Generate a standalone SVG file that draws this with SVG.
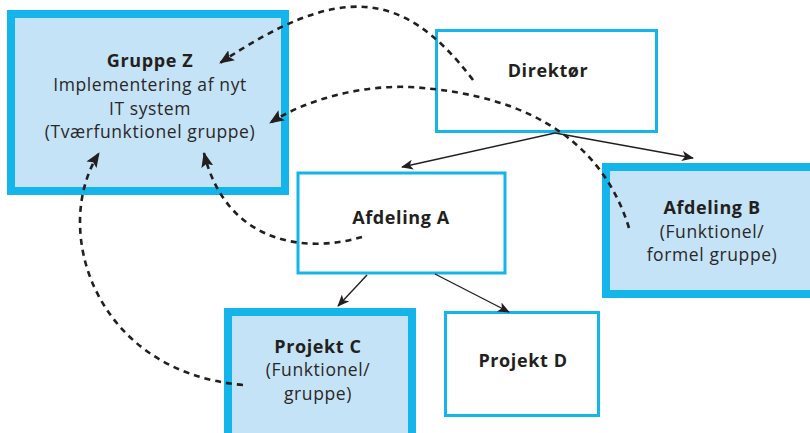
<svg xmlns="http://www.w3.org/2000/svg" width="810" height="433" viewBox="0 0 810 433">
<style>
.thick{fill:#C5E3F6;stroke:#13B5EA;stroke-width:8}
.thin{fill:#FFFFFF;stroke:#13B5EA;stroke-width:3}
text{font-family:"Open Sans","Noto Sans","DejaVu Sans",sans-serif;fill:#2A2728;text-anchor:middle;font-size:17.5px;letter-spacing:0.6px}
.b{font-weight:bold;font-size:18px;fill:#231F20}
.solid{fill:none;stroke:#231F20;stroke-width:1.4}
.dash{fill:none;stroke:#231F20;stroke-width:2.6;stroke-dasharray:6 5}
</style>
<defs>
<marker id="ah" markerUnits="userSpaceOnUse" markerWidth="12" markerHeight="10" refX="11" refY="5" orient="auto">
<path d="M0,0 L12,5 L0,10 L3,5 Z" fill="#231F20"/>
</marker>
<marker id="ahd" markerUnits="userSpaceOnUse" markerWidth="15" markerHeight="12" refX="14" refY="6" orient="auto">
<path d="M0,0 L15,6 L0,12 L3,6 Z" fill="#231F20"/>
</marker>
</defs>
<g id="gruppe-z">
<rect class="thick" x="11" y="14" width="274" height="177"/>
<text class="b" x="150" y="67">Gruppe Z</text>
<text x="150" y="91">Implementering af nyt</text>
<text x="150" y="115">IT system</text>
<text x="150" y="138">(Tværfunktionel gruppe)</text>
</g>
<g id="direktor">
<rect class="thin" x="436.5" y="30.5" width="220" height="101"/>
<text class="b" x="548" y="77">Direktør</text>
</g>
<g id="afdeling-a">
<rect class="thin" x="298" y="173" width="207" height="100"/>
<text class="b" x="401" y="224">Afdeling A</text>
</g>
<g id="afdeling-b">
<rect class="thick" x="606" y="167" width="212" height="127"/>
<text class="b" x="712" y="214">Afdeling B</text>
<text x="712" y="238">(Funktionel/</text>
<text x="712" y="261">formel gruppe)</text>
</g>
<g id="projekt-c">
<rect class="thick" x="228" y="312" width="184" height="125"/>
<text class="b" x="318" y="353">Projekt C</text>
<text x="318" y="376">(Funktionel/</text>
<text x="318" y="400">gruppe)</text>
</g>
<g id="projekt-d">
<rect class="thin" x="445.5" y="312.5" width="153" height="103"/>
<text class="b" x="523" y="367">Projekt D</text>
</g>
<g id="connectors">
<path class="solid" d="M555,133 L402,167" marker-end="url(#ah)"/>
<path class="solid" d="M555,133 L693,158" marker-end="url(#ah)"/>
<path class="solid" d="M367,275 L338,306" marker-end="url(#ah)"/>
<path class="solid" d="M435,274 L509,312" marker-end="url(#ah)"/>
<path class="dash" d="M473,80 C401,-15 336,-14.5 220,63" marker-end="url(#ahd)"/>
<path class="dash" d="M629,228 C605,150 540,95 410,87 C360,85 305,100 270,123" marker-end="url(#ahd)"/>
<path class="dash" d="M362,237 C300,255 225,240 204,153" marker-end="url(#ahd)"/>
<path class="dash" d="M243,385 C95,372 50,230 99,153" marker-end="url(#ahd)"/>
</g>
</svg>
